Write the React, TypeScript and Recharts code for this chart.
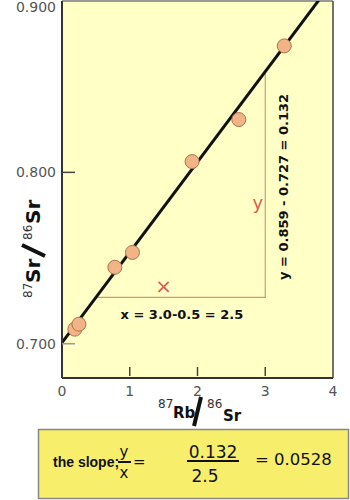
import { ComposedChart, Line, Scatter, XAxis, YAxis, CartesianGrid, ReferenceLine, ReferenceDot } from 'recharts';

// isochron samples (87Rb/86Sr, 87Sr/86Sr)
const rbSr = [0.19, 0.25, 0.78, 1.04, 1.92, 2.61, 3.28];
const srSr = [0.7085, 0.7114, 0.7446, 0.7533, 0.8063, 0.8308, 0.8738];

// best-fit isochron line ends
const fitX = [0, 3.8];
const fitY = [0.7006, 0.901];

// slope triangle corners
const triX = [0.5, 3.0, 3.0];
const triY = [0.727, 0.727, 0.859];

const xTicks = [0, 1, 2, 3, 4];
const yTicks = [0.7, 0.8, 0.9];

const points = rbSr.map((x, i) => ({ x, y: srSr[i] }));
const fitLine = fitX.map((x, i) => ({ x, y: fitY[i] }));
const triangle = triX.map((x, i) => ({ x, y: triY[i] }));

const TICK_COLOR = '#555';
const LABEL_FONT = '"DejaVu Sans", sans-serif';

const Dot = (props: any) => (
  <circle cx={props.cx} cy={props.cy} r={7} fill="#f2b487" stroke="#a8734e" strokeWidth={1} />
);

const YTick = (props: any) => {
  const { x, y, payload } = props;
  const top = payload.value === 0.9;
  return (
    <g>
      <text x={x} y={top ? y + 6 : y} dy={5} textAnchor="end" fill={TICK_COLOR} fontSize={14} fontFamily={LABEL_FONT}>
        {payload.value.toFixed(3)}
      </text>
      {!top && <line x1={x + 6} x2={x + 19} y1={y} y2={y} stroke={payload.value === 0.7 ? '#999' : '#444'} strokeWidth={1.5} />}
    </g>
  );
};

const XTick = (props: any) => {
  const { x, y, payload } = props;
  const inner = payload.value > 0 && payload.value < 4;
  return (
    <g>
      <text x={x} y={y} dy={12} textAnchor="middle" fill={TICK_COLOR} fontSize={14} fontFamily={LABEL_FONT}>
        {payload.value}
      </text>
      {inner && <line x1={x} x2={x} y1={y - 8} y2={y - 17} stroke="#444" strokeWidth={1.5} />}
    </g>
  );
};

const note = (text: string, opts: any = {}) => (p: any) => (
  <text
    x={p.cx}
    y={p.cy}
    textAnchor="middle"
    dominantBaseline="central"
    fontSize={opts.size || 13}
    fontWeight={opts.weight || 'bold'}
    fill={opts.color || '#111'}
    fontFamily={LABEL_FONT}
    transform={opts.rotate ? `rotate(-90 ${p.cx} ${p.cy})` : undefined}
  >
    {text}
  </text>
);

export default function App() {
  return (
    <div style={{ position: 'absolute', left: 0, top: 0, width: 350, height: 500, background: '#fff' }}>
      <ComposedChart width={350} height={500} margin={{ top: 1, right: 17, bottom: 0, left: 0 }}>
        <CartesianGrid horizontal={false} vertical={false} fill="#ffffc6" />
        <XAxis
          type="number"
          dataKey="x"
          domain={[0, 4]}
          ticks={xTicks}
          tickLine={false}
          tickSize={0}
          tickMargin={6}
          height={122}
          axisLine={{ stroke: '#333', strokeWidth: 2 }}
          tick={<XTick />}
          interval={0}
        />
        <YAxis
          type="number"
          dataKey="y"
          domain={[0.68, 0.9]}
          ticks={yTicks}
          tickLine={false}
          tickSize={0}
          tickMargin={6}
          width={62}
          axisLine={{ stroke: '#333', strokeWidth: 2 }}
          tick={<YTick />}
          interval={0}
          allowDataOverflow
        />
        <ReferenceLine y={0.9} stroke="#999" strokeWidth={2} />
        <ReferenceLine x={4} stroke="#444" strokeWidth={1.5} />
        <Line data={triangle} dataKey="y" stroke="#dc9282" strokeWidth={1.2} dot={false} isAnimationActive={false} />
        <Line data={fitLine} dataKey="y" stroke="#111" strokeWidth={3} dot={false} isAnimationActive={false} />
        <Scatter data={points} dataKey="y" shape={<Dot />} isAnimationActive={false} />
        <ReferenceDot x={1.5} y={0.7335} r={0} shape={note('×', { color: '#d4604f', size: 20, weight: 'normal' })} />
        <ReferenceDot x={2.89} y={0.7825} r={0} shape={note('y', { color: '#d4604f', size: 18, weight: 'normal' })} />
        <ReferenceDot x={1.77} y={0.7168} r={0} shape={note('x = 3.0-0.5 = 2.5')} />
        <ReferenceDot x={3.27} y={0.7915} r={0} shape={note('y = 0.859 - 0.727 = 0.132', { rotate: true })} />

        {/* y axis title */}
        <g transform="translate(36 298) rotate(-90)" fontFamily={LABEL_FONT} fill="#111">
          <text x={0} y={-4} fontSize={12} fill="#333">87</text>
          <text x={15} y={4} fontSize={20} fontWeight="bold">Sr</text>
          <line x1={42} y1={9} x2={53} y2={-14} stroke="#111" strokeWidth={4} />
          <text x={58} y={-4} fontSize={12} fill="#333">86</text>
          <text x={74} y={4} fontSize={20} fontWeight="bold">Sr</text>
        </g>

        {/* x axis title */}
        <g fontFamily={LABEL_FONT} fill="#111">
          <text x={158} y={408} fontSize={12} fill="#333">87</text>
          <text x={173} y={418} fontSize={15} fontWeight="bold">Rb</text>
          <line x1={201} y1={397} x2={194} y2={426} stroke="#111" strokeWidth={4} />
          <text x={207} y={408} fontSize={12} fill="#333">86</text>
          <text x={223} y={421} fontSize={15} fontWeight="bold">Sr</text>
        </g>

        {/* slope box */}
        <g fill="#111">
          <rect x={38.5} y={429.5} width={310} height={69} fill="#f7ef6c" stroke="#888" strokeWidth={1.5} />
          <text x={53} y={467} fontSize={14} fontWeight="bold" fontFamily='"Liberation Sans", sans-serif'>the slope;</text>
          <text x={124} y={457} fontSize={15} textAnchor="middle" fontFamily={LABEL_FONT}>y</text>
          <line x1={118} x2={131} y1={462} y2={462} stroke="#111" strokeWidth={2} />
          <text x={124} y={478} fontSize={15} textAnchor="middle" fontFamily={LABEL_FONT}>x</text>
          <text x={133} y={467} fontSize={15} fontFamily={LABEL_FONT}>=</text>
          <text x={213} y={458} fontSize={17} textAnchor="middle" fontFamily={LABEL_FONT}>0.132</text>
          <line x1={187} x2={239} y1={461} y2={461} stroke="#111" strokeWidth={2} />
          <text x={205} y={482} fontSize={17} textAnchor="middle" fontFamily={LABEL_FONT}>2.5</text>
          <text x={255} y={465} fontSize={16.5} fontFamily={LABEL_FONT}>= 0.0528</text>
        </g>
      </ComposedChart>
    </div>
  );
}
